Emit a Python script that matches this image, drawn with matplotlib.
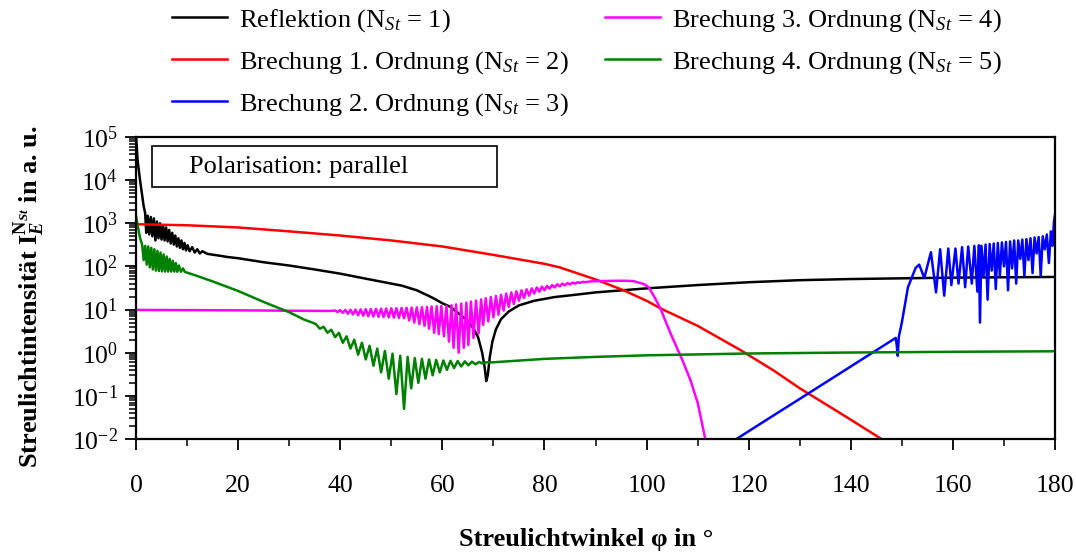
import matplotlib
matplotlib.use("Agg")
import matplotlib.pyplot as plt
from matplotlib.ticker import MultipleLocator, LogLocator
from matplotlib.patches import Rectangle

plt.rcParams['font.family'] = ['Liberation Serif', 'DejaVu Serif']
plt.rcParams['mathtext.fontset'] = 'custom'
plt.rcParams['mathtext.rm'] = 'Liberation Serif'
plt.rcParams['mathtext.it'] = 'Liberation Serif:italic'
plt.rcParams['mathtext.bf'] = 'Liberation Serif:bold'
plt.rcParams['mathtext.bfit'] = 'Liberation Serif:italic:bold'

# Reflektion (N_St = 1)
refl_x = [0, 0.3, 0.6, 0.9, 1.2, 1.5, 1.8, 2.0, 2.3, 2.6, 2.9, 3.2, 3.5, 3.8, 4.1, 4.4, 4.7, 5.0, 5.3,
          5.6, 5.9, 6.2, 6.5, 6.8, 7.1, 7.4, 7.7, 8.0, 8.3, 8.6, 8.9, 9.2, 9.5, 9.8, 10.1, 10.5, 11, 11.5,
          12, 12.5, 13, 14, 16, 18, 20, 25, 30, 35, 40, 45, 50, 52, 55, 58, 60, 61.6, 63, 64.9, 66, 67,
          67.8, 68.3, 68.6, 68.9, 69.3, 69.8, 70.5, 71.5, 73, 75, 78, 82, 86, 90, 100, 110, 120, 130,
          140, 150, 160, 170, 180]
refl_y = [1.2e5, 3e4, 1.5e4, 8e3, 4.5e3, 2.5e3, 1.7e3, 600, 1500, 550, 1400, 500, 1300, 400, 1100, 450,
          1000, 420, 900, 400, 800, 380, 700, 340, 600, 320, 520, 290, 450, 270, 400, 250, 350, 235, 310,
          225, 280, 210, 250, 200, 225, 195, 180, 165, 155, 125, 105, 85, 68, 52, 40, 36, 28, 19, 14,
          11.5, 8.5, 5.6, 3.8, 2.3, 1.0, 0.45, 0.22, 0.3, 0.8, 1.8, 3.5, 6, 9, 12.5, 16, 19.5, 22, 25,
          31, 37, 43, 48, 51, 53, 55, 56, 57]

# Brechung 1. Ordnung (N_St = 2)
br1_x = [0, 10, 20, 30, 40, 50, 60, 70, 80, 83, 90, 95.5, 100, 102.7, 110, 118.4, 125, 130, 135, 140,
         146, 148]
br1_y = [950, 900, 800, 650, 520, 400, 290, 185, 115, 95, 50, 28, 16, 10.7, 4.2, 1.15, 0.38, 0.15,
         0.065, 0.028, 0.01, 0.007]

# Brechung 2. Ordnung (N_St = 3)
br2_x = [117, 125, 130, 140, 148.8, 149.0, 149.2, 149.4, 150, 151.2, 152.7, 153.4, 154.4, 155.7, 156.7,
         157.5, 158.3, 159.1, 159.7, 160.5, 161.1, 161.8, 162.4, 163.0, 163.7, 164.2, 164.8, 165.1,
         165.3, 165.6, 166.0, 166.4, 166.8, 167.2, 167.6, 168.0, 168.4, 168.8, 169.2, 169.6, 170.0,
         170.4, 170.8, 171.2, 171.6, 172.0, 172.4, 172.8, 173.2, 173.6, 174.0, 174.4, 174.8, 175.2,
         175.6, 176.0, 176.4, 176.8, 177.2, 177.6, 178.0, 178.4, 178.8, 179.2, 179.5, 179.8, 180]
br2_y = [0.009, 0.036, 0.085, 0.48, 2.2, 1.5, 0.85, 2.3, 5, 33, 92, 110, 54, 214, 25, 250, 21, 260, 37,
         260, 40, 280, 33, 290, 40, 300, 26, 310, 5, 300, 60, 320, 17, 330, 80, 340, 30, 350, 60, 360,
         100, 370, 28, 380, 90, 400, 40, 400, 150, 420, 60, 430, 140, 450, 70, 470, 200, 480, 60, 500,
         250, 550, 120, 650, 300, 1100, 1600]

# Brechung 3. Ordnung (N_St = 4)
br3_x = [0, 10, 20, 30, 38, 39, 39.5, 40, 40.5, 41, 41.5, 42, 42.5, 43, 43.5, 44, 44.5, 45, 45.5, 46,
         46.5, 47, 47.5, 48, 48.5, 49, 49.5, 50, 50.5, 51, 51.5, 52, 52.5, 53, 53.5, 54, 54.5, 55, 55.5,
         56, 56.5, 57, 57.4, 57.9, 58.4, 58.9, 59.3, 59.8, 60.3, 60.8, 61.3, 61.8, 62.2, 62.7, 63.2,
         63.7, 64.2, 64.7, 65.1, 65.6, 66.1, 66.6, 67.1, 67.6, 68.0, 68.5, 69.0, 69.5, 70.0, 70.5,
         71.0, 71.5, 72.0, 72.5, 73, 73.5, 74, 74.5, 75, 75.5, 76, 76.5, 77, 77.5, 78, 78.5, 79, 79.5,
         80, 80.5, 81, 81.5, 82, 82.5, 83, 83.5, 84, 84.5, 85, 85.5, 86, 86.5, 87, 87.5, 88, 89, 90,
         92, 94, 96, 97.5, 98.5, 99.5, 100.4, 101.5, 102.7, 104.7, 107, 108.6, 110, 111.5, 112]
br3_y = [9.8, 9.7, 9.6, 9.4, 9.3, 9.5, 8.8, 9.7, 8.4, 9.8, 8.0, 9.9, 7.7, 10, 7.4, 10.1, 7.2, 10.2, 7.0,
         10.3, 6.9, 10.4, 6.8, 10.5, 6.7, 10.6, 6.6, 10.7, 6.5, 10.8, 6.4, 10.9, 6.3, 11, 5.6, 11.1,
         5.0, 11.2, 4.6, 11.4, 4.2, 11.6, 3.6, 11.8, 2.9, 12.0, 2.7, 12.1, 2.4, 12.2, 1.8, 12.6, 1.3,
         13.2, 1.0, 13.8, 1.3, 14.5, 1.5, 15.3, 2.2, 16.2, 2.8, 17.2, 4.4, 18.3, 5.3, 19.5, 6.6, 20.7,
         7.6, 22, 9.5, 23.5, 11.5, 25, 13.5, 26.5, 16, 28, 18.5, 29.5, 21, 31, 23.5, 32.5, 26, 34, 28,
         35.5, 30.5, 37, 32.5, 38.5, 34.5, 40, 36.5, 41, 38.5, 42, 40, 43, 41.5, 44, 43, 45, 45.5, 46,
         46.5, 46.5, 45.5, 42, 39, 33, 20, 10.7, 2.8, 0.68, 0.23, 0.07, 0.01, 0.007]

# Brechung 4. Ordnung (N_St = 5)
br4_x = [0, 0.4, 0.8, 1.2, 1.5, 1.8, 2.1, 2.4, 2.7, 3.0, 3.3, 3.6, 3.9, 4.2, 4.5, 4.8, 5.1, 5.4, 5.7,
         6.0, 6.3, 6.6, 6.9, 7.2, 7.5, 7.8, 8.1, 8.4, 8.8, 9.2, 9.6, 10, 12, 15, 20, 25, 30, 33, 34.5,
         35.25, 36.0, 36.75, 37.5, 38.25, 39.0, 39.75, 40.5, 41.25, 42.0, 42.75, 43.5, 44.25, 45.0,
         45.75, 46.5, 47.25, 48.0, 48.75, 49.5, 50.25, 51.0, 51.75, 52.5, 53.2, 53.9, 54.6, 55.3, 56.0,
         56.7, 57.4, 58.1, 58.8, 59.5, 60.2, 60.9, 61.6, 62.3, 63.0, 63.7, 64.4, 65.1, 65.8, 66.5,
         67.2, 67.9, 68.6, 70, 80, 90, 100, 120, 140, 160, 180]
br4_y = [1500, 800, 450, 320, 140, 300, 110, 290, 95, 270, 85, 250, 80, 230, 78, 210, 77, 190, 76, 170,
         76, 150, 76, 135, 76, 120, 75, 105, 75, 90, 74, 72, 60, 45, 27, 15, 8.7, 5.8, 5.0, 4.6, 3.6,
         4.0, 2.9, 3.4, 2.3, 2.9, 1.7, 2.4, 1.25, 2.0, 0.9, 1.7, 0.7, 1.45, 0.5, 1.25, 0.35, 1.1, 0.25,
         0.95, 0.11, 0.85, 0.05, 0.8, 0.15, 0.75, 0.2, 0.72, 0.25, 0.7, 0.3, 0.68, 0.35, 0.66, 0.4,
         0.65, 0.44, 0.64, 0.48, 0.63, 0.51, 0.62, 0.54, 0.61, 0.56, 0.6, 0.6, 0.72, 0.8, 0.87, 0.96,
         1.01, 1.05, 1.08]

labels = [r'Reflektion (N$_{\mathit{St}}$ = 1)',
          r'Brechung 1. Ordnung (N$_{\mathit{St}}$ = 2)',
          r'Brechung 2. Ordnung (N$_{\mathit{St}}$ = 3)',
          r'Brechung 3. Ordnung (N$_{\mathit{St}}$ = 4)',
          r'Brechung 4. Ordnung (N$_{\mathit{St}}$ = 5)']
colors = ['black', '#ff0000', '#0000ff', '#ff00ff', '#008000']

fig = plt.figure(figsize=(10.76, 5.56), dpi=100)
# axes box: left 136 px, right 1055 px, top 137 px, bottom 439 px
ax = fig.add_axes([136 / 1076, 117 / 556, 919 / 1076, 302 / 556])

series = [(refl_x, refl_y), (br1_x, br1_y), (br2_x, br2_y), (br3_x, br3_y), (br4_x, br4_y)]
for (x, y), c, lab in zip(series, colors, labels):
    ax.plot(x, y, color=c, lw=1.8, label=lab)

ax.set_yscale('log')
ax.set_xlim(0, 180)
ax.set_ylim(1e-2, 1e5)
ax.xaxis.set_major_locator(MultipleLocator(20))
ax.xaxis.set_minor_locator(MultipleLocator(10))
ax.yaxis.set_major_locator(LogLocator(base=10, numticks=20))
ax.yaxis.set_minor_locator(LogLocator(base=10, subs=range(2, 10), numticks=100))

for s in ax.spines.values():
    s.set_linewidth(1.6)
ax.tick_params(which='major', direction='out', length=8, width=1.3, labelsize=18.5,
               top=False, right=False)
ax.tick_params(which='minor', direction='out', length=5, width=1.1, top=False, right=False)
ax.tick_params(axis='x', which='major', pad=18)
ax.tick_params(axis='y', which='major', pad=5)

ax.set_xlabel('Streulichtwinkel φ in °', fontsize=19, fontweight='bold')
ax.xaxis.set_label_coords(0.49, -0.295)
ax.set_ylabel(r'Streulichtintensität $\mathbf{I}_{\mathbfit{E}}^{\mathbf{N}_{\mathbfit{St}}}$ in a. u.',
              fontsize=19, fontweight='bold')
ax.yaxis.set_label_coords(-0.097, 0.47)

ax.add_patch(Rectangle((0.0174, 0.834), 0.3755, 0.136, transform=ax.transAxes,
                       fill=False, lw=1.2, ec='black', zorder=5))
ax.text(0.058, 0.902, 'Polarisation: parallel', transform=ax.transAxes,
        fontsize=19, va='center', ha='left', zorder=6)

fig.legend(loc='upper left', bbox_to_anchor=(172 / 1076, 1 - 7 / 556), ncol=2, frameon=False,
           fontsize=19, handlelength=2.1, handletextpad=0.45, columnspacing=1.35,
           labelspacing=0.57, borderpad=0, borderaxespad=0)

fig.savefig('out.png', dpi=100)
